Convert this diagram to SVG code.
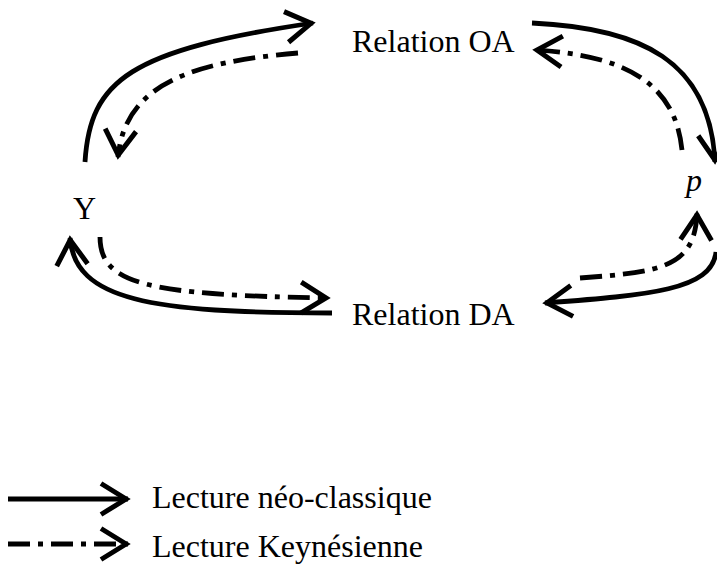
<svg xmlns="http://www.w3.org/2000/svg" width="717" height="564" viewBox="0 0 717 564">
<defs>
<marker id="arr" markerUnits="userSpaceOnUse" viewBox="-34 -20 42 40" markerWidth="42" markerHeight="40" refX="0" refY="0" orient="auto" overflow="visible">
<path d="M -27,-15.5 L -2,0 L -27,15.5" fill="none" stroke="#000" stroke-width="5" stroke-dasharray="none"/>
</marker>
</defs>
<style>
.solid{fill:none;stroke:#000;stroke-width:4.8;stroke-linecap:butt;marker-end:url(#arr)}
.dash{fill:none;stroke:#000;stroke-width:4.8;stroke-linecap:butt;stroke-dasharray:22 8 5 8;marker-end:url(#arr)}
text{font-family:"Liberation Serif","Times New Roman",serif;font-size:32px;fill:#000}
</style>
<rect width="717" height="564" fill="#fff"/>
<g id="connectors">
<path class="solid" d="M 85,162 C 90,80 130,50 313,23"/>
<path class="dash" d="M 298,53 C 190,62 125,85 118,157"/>
<path class="solid" d="M 532,23 C 640,28 710,60 715,162"/>
<path class="dash" d="M 682,150 C 675,80 620,55 535,50"/>
<path class="solid" d="M 716,252 C 712,290 650,295 545,303"/>
<path class="dash" d="M 580,278 C 660,272 695,268 697,213"/>
<path class="solid" d="M 332,313 C 150,313 75,300 70,238"/>
<path class="dash" d="M 100,237 C 100,285 150,295 328,298"/>
</g>
<g id="node-oa"><text x="352" y="52">Relation OA</text></g>
<g id="node-da"><text x="352" y="325">Relation DA</text></g>
<g id="node-y"><text x="73" y="219">Y</text></g>
<g id="node-p"><text x="686" y="191" font-style="italic">p</text></g>
<g id="legend">
<path class="solid" d="M 8,499 L 128,499"/>
<text x="152" y="508">Lecture néo-classique</text>
<path class="dash" d="M 8,544 L 128,544"/>
<text x="152" y="557">Lecture Keynésienne</text>
</g>
</svg>
